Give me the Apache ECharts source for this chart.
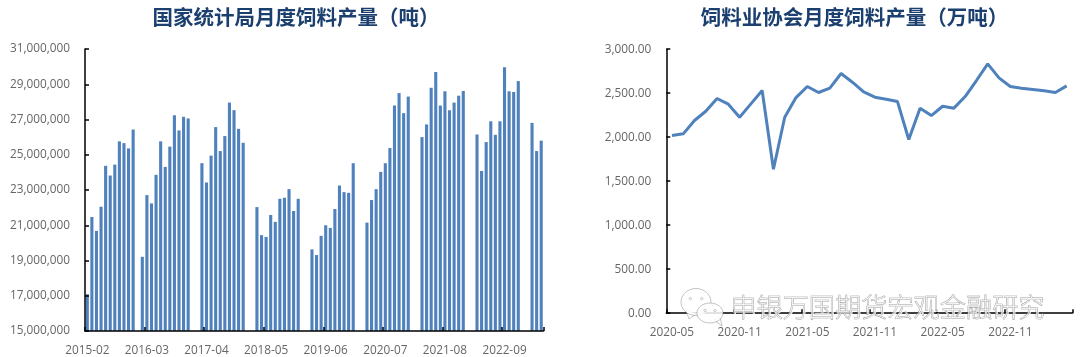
<!DOCTYPE html>
<html>
<head>
<meta charset="utf-8">
<style>
html, body { margin: 0; padding: 0; background: #fff; }
#main { width: 1080px; height: 357px; }
</style>
<script src="https://cdn.jsdelivr.net/npm/echarts@6/dist/echarts.min.js"></script>
</head>
<body>
<div id="main"></div>
<script>
var titleLeft = '国家统计局月度饲料产量（吨）';
var titleRight = '饲料业协会月度饲料产量（万吨）';
var watermark = '申银万国期货宏观金融研究';

// 2015-02 .. 2023-05, gaps are months with no release
var nbsValues = [
    17090000, 21470000, 20680000, 22050000, 24370000, 23820000, 24440000, 25760000, 25660000, 25360000, 26430000, null,
    19210000, 22710000, 22240000, 23860000, 25760000, 24310000, 25460000, 27240000, 26380000, 27150000, 27060000, null,
    null, 24520000, 23430000, 24950000, 26570000, 25210000, 26060000, 27960000, 27530000, 26470000, 25680000, null,
    null, 22030000, 20440000, 20340000, 21580000, 21190000, 22500000, 22560000, 23050000, 21810000, 22500000, null,
    null, 19630000, 19310000, 20400000, 21000000, 20850000, 21920000, 23260000, 22880000, 22840000, 24520000, null,
    null, 21150000, 22430000, 23050000, 24030000, 24520000, 25380000, 27790000, 28500000, 27360000, 28300000, null,
    null, 26000000, 26720000, 28800000, 29690000, 27790000, 28600000, 27530000, 27960000, 28350000, 28620000, null,
    null, 26150000, 24080000, 25720000, 26900000, 26130000, 26900000, 29970000, 28600000, 28560000, 29180000, null,
    null, 26810000, 25210000, 25800000
];
var nbsMonths = [];
for (var i = 0; i < nbsValues.length; i++) {
    var m = 1 + i;
    var y = 2015 + Math.floor(m / 12);
    var mm = m % 12 + 1;
    nbsMonths.push(y + '-' + (mm < 10 ? '0' + mm : mm));
}

// 2020-05 .. 2023-04
var assocValues = [
    2019, 2038, 2190, 2295, 2440, 2375, 2227, 2379, 2530, 1636, 2227, 2450,
    2576, 2508, 2557, 2724, 2625, 2515, 2455, 2432, 2405, 1974, 2330, 2246,
    2352, 2330, 2462, 2644, 2833, 2674, 2576, 2557, 2542, 2527, 2508, 2583
];
var assocMonths = [];
for (var j = 0; j < assocValues.length; j++) {
    var m2 = 4 + j;
    var y2 = 2020 + Math.floor(m2 / 12);
    var mm2 = m2 % 12 + 1;
    assocMonths.push(y2 + '-' + (mm2 < 10 ? '0' + mm2 : mm2));
}

var labelColor = '#666666';
var labelFont = '"Open Sans", sans-serif';
var blue = '#4F81BD';

function titleStyle(text, x) {
    return {
        text: text,
        left: x,
        top: 2,
        textAlign: 'center',
        textStyle: {
            fontFamily: '"Noto Sans CJK SC"',
            fontSize: 20.5,
            fontWeight: 700,
            color: '#1B3F6E'
        }
    };
}

function catAxis(gridIndex, data, every, margin) {
    return {
        type: 'category',
        gridIndex: gridIndex,
        data: data,
        boundaryGap: true,
        z: 5,
        axisLine: { lineStyle: { color: '#000', width: 1.5 } },
        axisTick: { show: true, inside: true, length: 4, interval: every - 1, lineStyle: { color: '#000', width: 1.5 } },
        axisLabel: { interval: every - 1, margin: margin, color: labelColor, fontFamily: labelFont, fontSize: 11.8, hideOverlap: false },
        splitLine: { show: false }
    };
}

function valAxis(gridIndex, min, max, interval, digits, labelPad) {
    return {
        type: 'value',
        gridIndex: gridIndex,
        min: min,
        max: max,
        interval: interval,
        z: 5,
        axisLine: { show: true, lineStyle: { color: '#000', width: 1.5 } },
        axisTick: { show: true, inside: true, length: 4, lineStyle: { color: '#000', width: 1.5 } },
        axisLabel: {
            margin: 15,
            color: labelColor,
            fontFamily: labelFont,
            fontSize: 11.8,
            padding: [labelPad, 0, 0, 0],
            formatter: function (v) {
                return v.toLocaleString('en-US', { minimumFractionDigits: digits, maximumFractionDigits: digits });
            }
        },
        splitLine: { show: false }
    };
}

// WeChat style logo next to the watermark text
function bubble(cx, cy, rx, ry, tail) {
    var line = 'rgba(120,120,120,0.55)';
    return [
        { type: 'polygon', z: 100, shape: { points: tail }, style: { fill: '#fff', stroke: line, lineWidth: 0.8 } },
        { type: 'ellipse', z: 100, shape: { cx: cx, cy: cy, rx: rx, ry: ry }, style: { fill: 'rgba(255,255,255,0.85)', stroke: line, lineWidth: 0.8 } },
        { type: 'circle', z: 101, shape: { cx: cx - rx * 0.38, cy: cy - ry * 0.25, r: 1.2 }, style: { fill: '#fff', stroke: line, lineWidth: 0.7 } },
        { type: 'circle', z: 101, shape: { cx: cx + rx * 0.38, cy: cy - ry * 0.25, r: 1.2 }, style: { fill: '#fff', stroke: line, lineWidth: 0.7 } }
    ];
}

var logo = bubble(696, 302, 15, 13.5, [[686, 310], [689, 319], [696, 314]])
    .concat(bubble(710, 313, 13, 10, [[714, 320], [722, 326], [720, 317]]));

function markText(dx, dy, fill, stroke) {
    return {
        type: 'text',
        left: 730 + dx,
        top: 294 + dy,
        z: 102,
        style: {
            text: watermark,
            fontFamily: '"Noto Sans CJK SC"',
            fontSize: 26.2,
            fontWeight: 300,
            fill: fill,
            stroke: stroke,
            lineWidth: 0.6
        }
    };
}

var chart = echarts.init(document.getElementById('main'));
chart.setOption({
    animation: false,
    backgroundColor: '#fff',
    title: [titleStyle(titleLeft, 291), titleStyle(titleRight, 849.5)],
    grid: [
        { left: 85, top: 49, width: 458.5, height: 283.5 },
        { left: 666.3, top: 49.2, width: 406, height: 264 }
    ],
    xAxis: [catAxis(0, nbsMonths, 13, 14), catAxis(1, assocMonths, 6, 13)],
    yAxis: [valAxis(0, 15000000, 31000000, 2000000, 0, 2), valAxis(1, 0, 3000, 500, 2, 0)],
    series: [
        {
            name: '饲料产量',
            type: 'bar',
            xAxisIndex: 0,
            yAxisIndex: 0,
            data: nbsValues,
            barWidth: 3.1,
            itemStyle: { color: blue }
        },
        {
            name: '饲料产量',
            type: 'line',
            xAxisIndex: 1,
            yAxisIndex: 1,
            data: assocValues,
            showSymbol: false,
            symbol: 'none',
            lineStyle: { color: blue, width: 3 }
        }
    ],
    graphic: logo.concat([
        markText(1, 1, 'rgba(255,255,255,0.8)', 'rgba(255,255,255,0.8)'),
        markText(0, 0, 'rgba(255,255,255,0.6)', 'rgba(95,95,95,0.75)')
    ])
});
</script>
</body>
</html>
